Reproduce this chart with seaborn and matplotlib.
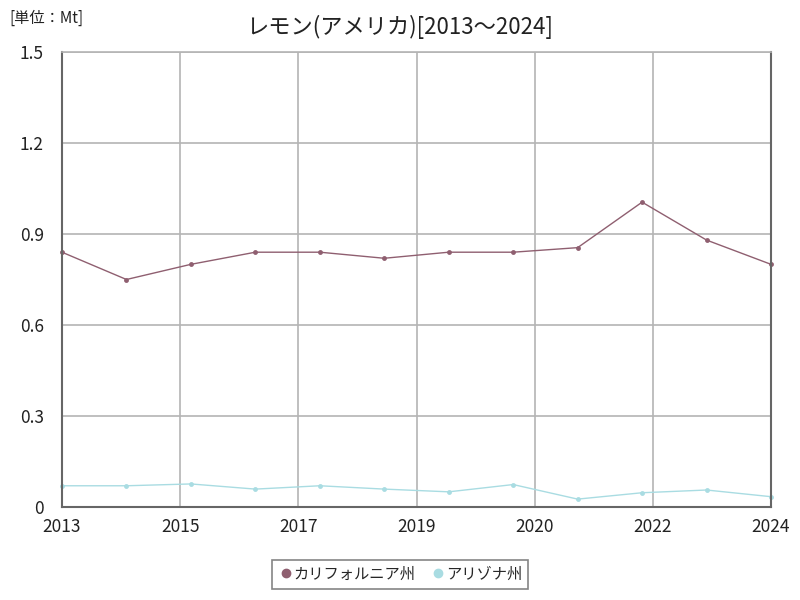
import numpy as np
import pandas as pd
import matplotlib
matplotlib.use("Agg")
import matplotlib.pyplot as plt
import seaborn as sns
from matplotlib.lines import Line2D

years = list(range(2013, 2025))
california = [0.84, 0.75, 0.80, 0.84, 0.84, 0.82, 0.84, 0.84, 0.855, 1.005, 0.88, 0.80]
arizona = [0.070, 0.070, 0.076, 0.059, 0.070, 0.059, 0.050, 0.074, 0.026, 0.047, 0.056, 0.034]
series_names = ["カリフォルニア州", "アリゾナ州"]
colors = ["#8f5f70", "#a9dce2"]
xtick_labels = ["2013", "2015", "2017", "2019", "2020", "2022", "2024"]
ytick_values = [0, 0.3, 0.6, 0.9, 1.2, 1.5]
ytick_labels = ["0", "0.3", "0.6", "0.9", "1.2", "1.5"]

sns.set_style("white")
plt.rcParams['font.family'] = ['Noto Sans CJK JP', 'DejaVu Sans']

df = pd.DataFrame({
    "year": years * 2,
    "value": california + arizona,
    "series": [series_names[0]] * len(years) + [series_names[1]] * len(years),
})

fig = plt.figure(figsize=(8, 6), dpi=100)
ax = fig.add_axes([62/800, 93/600, 709/800, 455/600])

sns.lineplot(data=df, x="year", y="value", hue="series", palette=colors,
             marker="o", markersize=3.5, markeredgewidth=0, linewidth=1.0,
             ax=ax, legend=False, clip_on=False)

ax.set_xlim(2013, 2024)
ax.set_ylim(0, 1.5)
ax.set_xticks(np.linspace(2013, 2024, 7))
ax.set_xticklabels(xtick_labels, fontsize=12.5)
ax.set_yticks(ytick_values)
ax.set_yticklabels(ytick_labels, fontsize=12.5)
ax.set_xlabel("")
ax.set_ylabel("")
ax.grid(True, color="#b4b4b4", linewidth=1.2)
ax.set_axisbelow(True)
for s in ["left", "bottom", "right"]:
    ax.spines[s].set_color("#666666")
    ax.spines[s].set_linewidth(1.5)
ax.spines["top"].set_color("#b4b4b4")
ax.spines["top"].set_linewidth(1.2)
ax.tick_params(axis="x", length=0, pad=8, colors="#222222")
ax.tick_params(axis="y", length=0, pad=13, colors="#222222")

fig.text(0.5, 0.955, "レモン(アメリカ)[2013～2024]", ha="center", va="center", fontsize=16, color="#222222")
fig.text(0.012, 0.97, "[単位：Mt]", ha="left", va="center", fontsize=11, color="#222222")

handles = [Line2D([], [], marker="o", linestyle="none", color=c, markersize=6) for c in colors]
leg = fig.legend(handles, series_names, loc="center", bbox_to_anchor=(0.5, 0.043), ncol=2,
                 frameon=True, fancybox=False, edgecolor="#666666", fontsize=11,
                 handletextpad=0.0, columnspacing=1.0, borderpad=0.4, handlelength=1.0)
leg.get_frame().set_linewidth(1.2)

fig.savefig("out.png", dpi=100)
